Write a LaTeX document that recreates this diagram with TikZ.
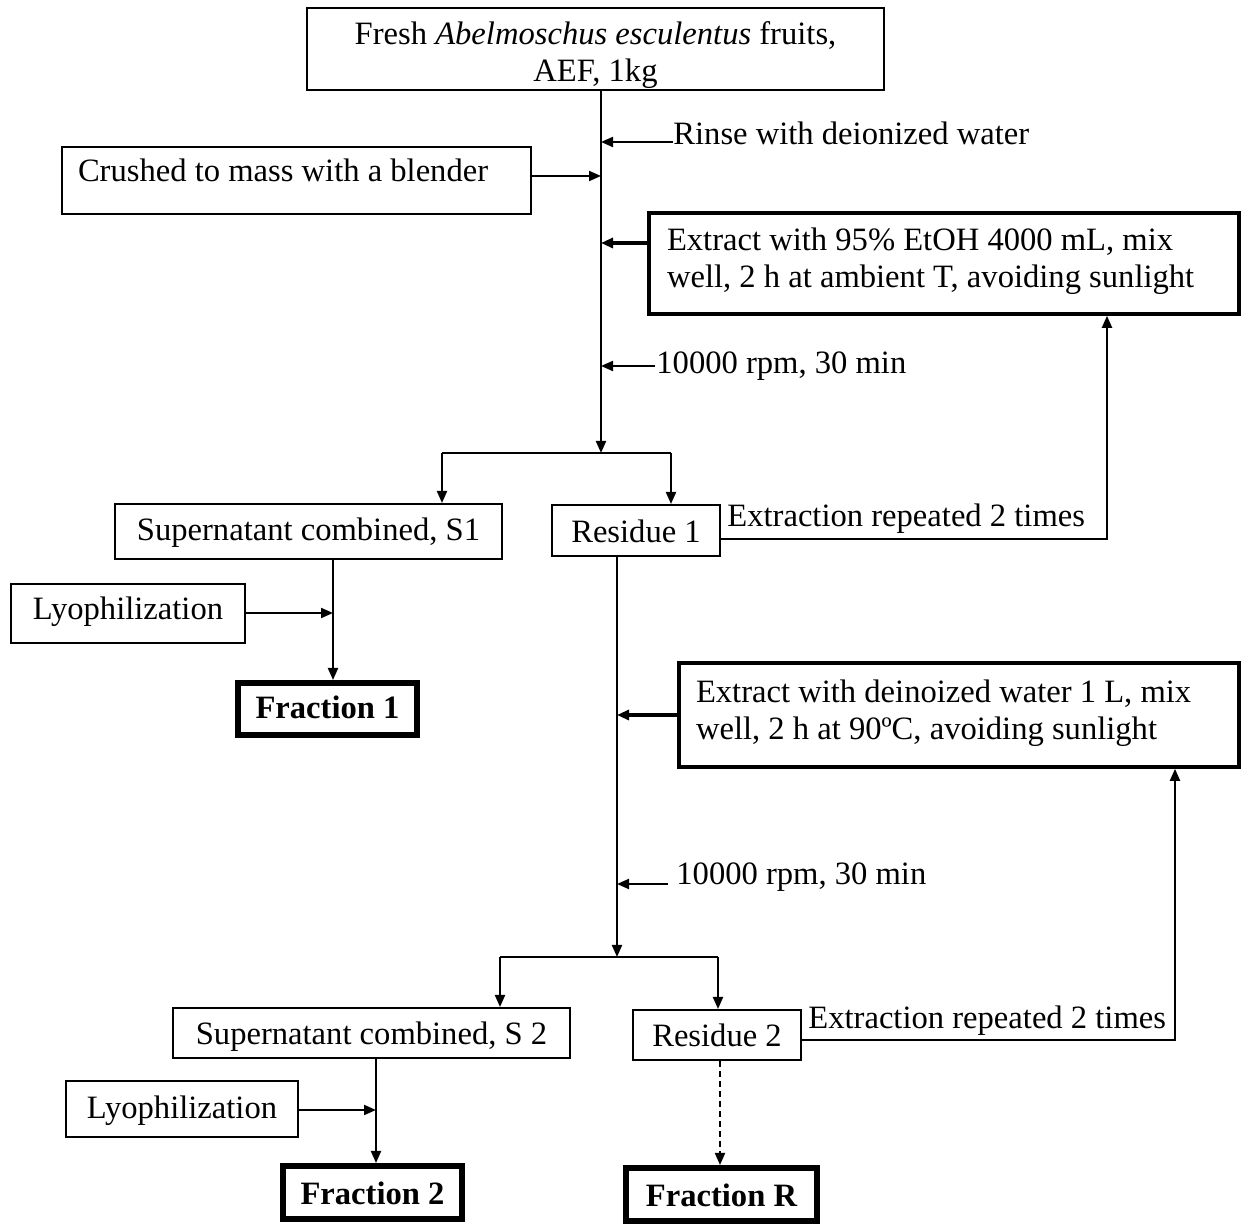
\documentclass[tikz,border=0pt]{standalone}
\usepackage{fontspec}
\setmainfont{Liberation Serif}
\usetikzlibrary{arrows.meta}
\newcommand\mainfnt{\fontsize{16.3}{18.5}\selectfont}
\begin{document}
\begin{tikzpicture}[x=0.5pt,y=-0.5pt,
  box/.style={draw, line width=1pt, inner sep=0pt, font=\mainfnt},
  sbox/.style n args={3}{box, minimum width=#1, text height=#2, text depth=#3, align=center},
  thickbox/.style={box, line width=1.8pt},
  fracbox/.style n args={3}{box, line width=3pt, font=\mainfnt\bfseries, minimum width=#1, text height=#2, text depth=#3},
  lbl/.style={inner sep=0pt, anchor=base west, font=\mainfnt},
  arr/.style={-{Triangle[length=6pt,width=5pt]}, line width=1pt},
  thickarr/.style={arr, line width=1.6pt},
  plain/.style={line width=1pt}
]
\useasboundingbox (0,0) rectangle (1244,1224);

% boxes
\node[box, text width=288.5pt, align=flush center, minimum height=41pt] (top) at (595.5,49)
  {\rule{0pt}{18.5pt}Fresh \textit{Abelmoschus esculentus} fruits,\\AEF, 1kg\rule[-4pt]{0pt}{4pt}};
\node[box, text width=218.5pt, inner xsep=8pt, align=flush left, text height=17.5pt, text depth=16pt] (crushed) at (296.5,180.5)
  {Crushed to mass with a blender};
\node[thickbox, text width=277pt, inner xsep=9pt, align=flush left, minimum height=50.5pt] (ext1) at (944,263.5)
  {\rule{0pt}{19pt}Extract with 95\% EtOH 4000 mL, mix\\well, 2 h at ambient T, avoiding sunlight\rule[-13pt]{0pt}{13pt}};
\node[sbox={193.5pt}{18.5pt}{9pt}] (s1) at (308.5,531.5) {Supernatant combined, S1};
\node[sbox={84pt}{19pt}{6.5pt}] (r1) at (636,530.5) {Residue 1};
\node[sbox={117pt}{18pt}{11.5pt}] (lyo1) at (128,613.5) {Lyophilization};
\node[fracbox={89.5pt}{18pt}{8pt}] (frac1) at (327.5,709) {Fraction 1};
\node[thickbox, text width=263pt, inner xsep=8.5pt, align=flush left, minimum height=52pt] (ext2) at (959,715)
  {\rule{0pt}{20pt}Extract with deinoized water 1 L, mix\\well, 2 h at 90ºC, avoiding sunlight\rule[-13.5pt]{0pt}{13.5pt}};
\node[sbox={198.5pt}{18.5pt}{6.5pt}] (s2) at (371.5,1033) {Supernatant combined, S 2};
\node[sbox={84pt}{18.5pt}{6.5pt}] (r2) at (717,1035) {Residue 2};
\node[sbox={116pt}{19pt}{9pt}] (lyo2) at (182,1109) {Lyophilization};
\node[fracbox={89.5pt}{19pt}{7.5pt}] (frac2) at (372.5,1192.5) {Fraction 2};
\node[fracbox={95.5pt}{19pt}{7.5pt}] (fracR) at (721.5,1194.5) {Fraction R};

% free labels
\node[lbl] (rinse) at (673,145) {Rinse with deionized water};
\node[lbl] (rpm1) at (656,374) {10000 rpm, 30 min};
\node[lbl] (rep1) at (727,527) {Extraction repeated 2 times};
\node[lbl] (rpm2) at (676,885) {10000 rpm, 30 min};
\node[lbl] (rep2) at (808,1029) {Extraction repeated 2 times};

% coordinates
\coordinate (a1) at (601,142);
\coordinate (a2) at (601,176);
\coordinate (a3) at (601,243);
\coordinate (a4) at (601,366);
\coordinate (j1) at (601,453);
\coordinate (b1l) at (442,453);
\coordinate (b1r) at (671,453);
\coordinate (l1) at (1107,539);
\coordinate (d1) at (333,613);
\coordinate (c1) at (617,715);
\coordinate (c2) at (617,884);
\coordinate (j2) at (617,957);
\coordinate (b2l) at (500,957);
\coordinate (b2r) at (718,957);
\coordinate (l2) at (1175,1040);
\coordinate (d2) at (376,1110);
\coordinate (e2) at (720,1110);

% first stage
\draw[arr] (top.south -| j1) -- (j1);
\draw[arr] (rinse.west |- a1) -- (a1);
\draw[arr] (crushed.east |- a2) -- (a2);
\draw[thickarr] (ext1.west |- a3) -- (a3);
\draw[arr] ([xshift=-0.5pt]rpm1.west |- a4) -- (a4);
\draw[plain] (b1l) -- (b1r);
\draw[arr] (b1l) -- (b1l |- s1.north);
\draw[arr] (b1r) -- (b1r |- r1.north);
\draw[arr] (r1.east |- l1) -- (l1) -- (l1 |- ext1.south);
\draw[arr] (s1.south -| d1) -- (frac1.north -| d1);
\draw[arr] (lyo1.east |- d1) -- (d1);

% second stage
\draw[arr] (r1.south -| j2) -- (j2);
\draw[thickarr] (ext2.west |- c1) -- (c1);
\draw[arr] ([xshift=-4pt]rpm2.west |- c2) -- (c2);
\draw[plain] (b2l) -- (b2r);
\draw[arr] (b2l) -- (b2l |- s2.north);
\draw[arr] (b2r) -- (b2r |- r2.north);
\draw[arr] (r2.east |- l2) -- (l2) -- (l2 |- ext2.south);
\draw[arr] (s2.south -| d2) -- (frac2.north -| d2);
\draw[arr] (lyo2.east |- d2) -- (d2);
\draw[arr, dash pattern=on 3pt off 2pt] (r2.south -| e2) -- (fracR.north -| e2);
\end{tikzpicture}
\end{document}
